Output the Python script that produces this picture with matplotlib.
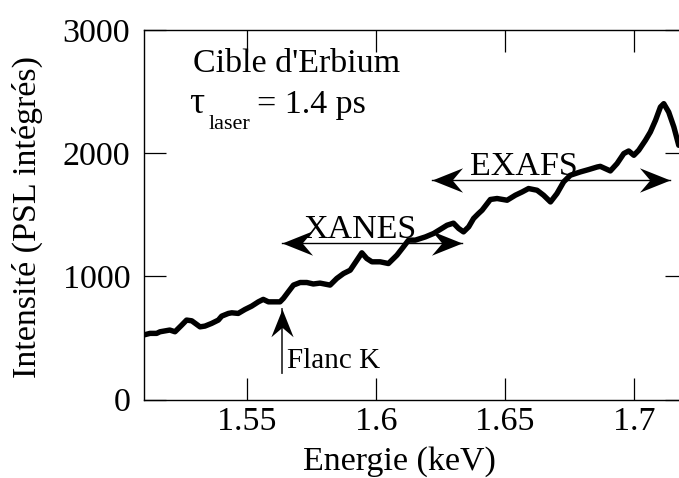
import numpy as np
import matplotlib
matplotlib.use('Agg')
import matplotlib.pyplot as plt
from matplotlib.path import Path

plt.rcParams['font.family'] = ['Liberation Serif', 'DejaVu Serif']

# spectrum (keV, PSL)
energy = [1.5099, 1.5125, 1.5151, 1.5164, 1.5202, 1.5222, 1.5248, 1.5267, 1.5287, 1.5319,
          1.5338, 1.5364, 1.5390, 1.5403, 1.5429, 1.5442, 1.5467, 1.5493, 1.5519, 1.5545,
          1.5564, 1.5584, 1.5629, 1.5642, 1.5661, 1.5681, 1.5707, 1.5733, 1.5758, 1.5784,
          1.5823, 1.5849, 1.5875, 1.5901, 1.5927, 1.5946, 1.5965, 1.5985, 1.6017, 1.6049,
          1.6082, 1.6107, 1.6127, 1.6153, 1.6192, 1.6224, 1.6256, 1.6276, 1.6301, 1.6321,
          1.6340, 1.6360, 1.6379, 1.6398, 1.6412, 1.6444, 1.6470, 1.6509, 1.6541, 1.6567,
          1.6592, 1.6625, 1.6650, 1.6677, 1.6702, 1.6728, 1.6754, 1.6793, 1.6825, 1.6858,
          1.6870, 1.6909, 1.6935, 1.6961, 1.6980, 1.7000, 1.7019, 1.7045, 1.7064, 1.7084,
          1.7103, 1.7116, 1.7135, 1.7155, 1.7174]
intensity = [523, 537, 537, 550, 564, 550, 604, 645, 639, 590,
             596, 618, 645, 677, 699, 704, 699, 731, 758, 793,
             813, 793, 793, 821, 874, 929, 950, 950, 938, 945,
             929, 983, 1023, 1050, 1131, 1191, 1145, 1118, 1118, 1104,
             1172, 1239, 1294, 1294, 1320, 1348, 1389, 1415, 1432, 1389,
             1361, 1402, 1470, 1510, 1537, 1624, 1632, 1618, 1659, 1685,
             1713, 1699, 1659, 1604, 1672, 1767, 1821, 1848, 1867, 1888,
             1893, 1856, 1916, 1997, 2018, 1983, 2024, 2105, 2172, 2267,
             2375, 2402, 2334, 2213, 2064]

xticks = [1.55, 1.6, 1.65, 1.7]
xtick_labels = ['1.55', '1.6', '1.65', '1.7']
yticks = [0, 1000, 2000, 3000]

# regions marked with double arrows: (start, end, level)
xanes = (1.5637, 1.6334, 1272)
exafs = (1.6218, 1.7139, 1786)
edge_x = 1.5638
edge_y = (213, 732)


def stealth(angle):
    # arrow head with tip at origin, pointing along angle (deg)
    pts = np.array([[0, 0], [-1, 0.4], [-0.66, 0], [-1, -0.4], [0, 0]])
    a = np.deg2rad(angle)
    rot = np.array([[np.cos(a), -np.sin(a)], [np.sin(a), np.cos(a)]])
    pts = pts @ rot.T
    codes = [Path.MOVETO, Path.LINETO, Path.LINETO, Path.LINETO, Path.CLOSEPOLY]
    return Path(pts, codes)


fig = plt.figure(figsize=(6.79, 4.78), dpi=100)
ax = fig.add_axes([0.2121, 0.1642, 0.7997, 0.773])

ax.plot(energy, intensity, color='black', lw=3.9, solid_joinstyle='round',
        solid_capstyle='round')

ax.set_xlim(1.5102, 1.7206)
ax.set_ylim(0, 3000)
ax.set_xticks(xticks)
ax.set_xticklabels(xtick_labels)
ax.set_yticks(yticks)
ax.tick_params(direction='in', length=16, width=0.9, labelsize=24.5,
               top=True, right=True, pad=5)
ax.tick_params(axis='y', pad=10)
for s in ax.spines.values():
    s.set_linewidth(1.0)

fig.text(0.589, 0.017, 'Energie (keV)', ha='center', va='baseline', fontsize=24.5)
fig.text(0.041, 0.545, 'Intensité (PSL intégrés)', ha='center', va='center',
         rotation=90, fontsize=24.5)

# double arrows
for x0, x1, yy in (xanes, exafs):
    ax.plot([x0, x1], [yy, yy], color='black', lw=1.0)
    ax.plot([x1], [yy], marker=stealth(0), ms=44, color='black', mew=0)
    ax.plot([x0], [yy], marker=stealth(180), ms=44, color='black', mew=0)
ax.text(1.5940, 1311, 'XANES', ha='center', va='baseline', fontsize=24.5)
ax.text(1.6572, 1822, 'EXAFS', ha='center', va='baseline', fontsize=24.5)

# edge marker
ax.plot([edge_x, edge_x], edge_y, color='#333333', lw=1.3)
ax.plot([edge_x], [edge_y[1]], marker=stealth(90), ms=40, color='black', mew=0)
ax.text(1.5656, 256, 'Flanc K', ha='left', va='baseline', fontsize=21)

# legend text
ax.text(1.5292, 2658, "Cible d'Erbium", ha='left', va='baseline', fontsize=24.5)
ax.text(1.5276, 2325, 'τ', ha='left', va='baseline', fontsize=27)
ax.text(1.5353, 2200, 'laser', ha='left', va='baseline', fontsize=16)
ax.text(1.5540, 2325, '= 1.4 ps', ha='left', va='baseline', fontsize=24.5)

fig.savefig('out.png', dpi=100)
